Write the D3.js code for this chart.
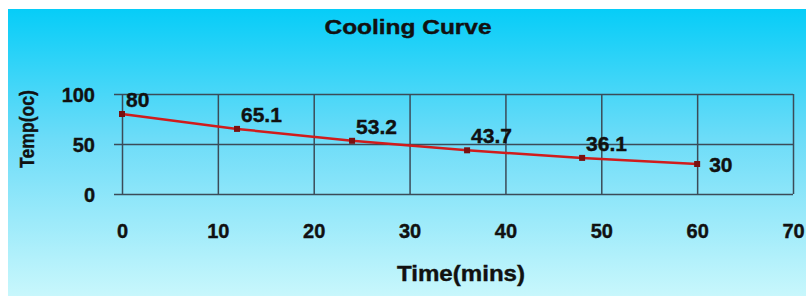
<!DOCTYPE html>
<html>
<head>
<meta charset="utf-8">
<script src="https://cdn.jsdelivr.net/npm/d3@7"></script>
<style>
  body { margin: 0; background: #fff; }
  text { font-family: "Liberation Sans", Arial, sans-serif; font-weight: bold; fill: #111; stroke: #111; stroke-width: 0.4px; }
</style>
</head>
<body>
<svg id="chart" width="806" height="296"></svg>
<script>
const times = [0, 12, 24, 36, 48, 60];
const temps = [80, 65.1, 53.2, 43.7, 36.1, 30];
const tempLabels = ["80", "65.1", "53.2", "43.7", "36.1", "30"];
const xTicks = [0, 10, 20, 30, 40, 50, 60, 70];
const yTicks = [0, 50, 100];

const svg = d3.select("#chart");

// background gradient
const grad = svg.append("defs").append("linearGradient")
    .attr("id", "bg").attr("x1", 0).attr("y1", 0).attr("x2", 0).attr("y2", 1);
grad.append("stop").attr("offset", "0%").attr("stop-color", "#06cdf8");
grad.append("stop").attr("offset", "45%").attr("stop-color", "#6cdcf8");
grad.append("stop").attr("offset", "100%").attr("stop-color", "#c8f7fc");
svg.append("rect").attr("x", 8).attr("y", 9).attr("width", 798).attr("height", 287)
    .attr("fill", "url(#bg)");

const x = d3.scaleLinear().domain([0, 70]).range([122, 793]);
const y = d3.scaleLinear().domain([0, 100]).range([194, 94]);

const gridColor = "#3b4b58";

// y axis with grid lines
const yAxis = svg.append("g")
    .attr("transform", "translate(114,0)")
    .call(d3.axisLeft(y).tickValues(yTicks).tickSize(-(793 - 114)).tickPadding(19));
yAxis.select(".domain").remove();
yAxis.selectAll("line").attr("stroke", gridColor).attr("stroke-width", 1.5);
yAxis.selectAll("text").attr("font-size", 20).attr("dy", "0.36em").attr("fill", "#111");

// x axis with grid lines
const xAxis = svg.append("g")
    .attr("transform", "translate(0,194)")
    .call(d3.axisBottom(x).tickValues(xTicks).tickSize(-100).tickPadding(30));
xAxis.select(".domain").remove();
xAxis.selectAll("line").attr("stroke", gridColor).attr("stroke-width", 1.5);
xAxis.selectAll("text").attr("font-size", 20).attr("fill", "#111");

// data line
const data = times.map((t, i) => ({t: t, v: temps[i], label: tempLabels[i]}));
const line = d3.line().x(d => x(d.t)).y(d => y(d.v));
svg.append("path").datum(data)
    .attr("d", line)
    .attr("fill", "none")
    .attr("stroke", "#d01c1c")
    .attr("stroke-width", 2.5);

svg.selectAll(".marker").data(data).enter()
    .append("rect").classed("marker", true)
    .attr("x", d => x(d.t) - 3)
    .attr("y", d => y(d.v) - 3)
    .attr("width", 6).attr("height", 6)
    .attr("fill", "#7a1010");

// data labels
svg.selectAll(".dlabel").data(data).enter()
    .append("text").classed("dlabel", true)
    .attr("x", (d, i) => i === data.length - 1 ? x(d.t) + 12 : x(d.t) + 4)
    .attr("y", (d, i) => i === data.length - 1 ? y(d.v) + 8 : y(d.v) - 7)
    .attr("font-size", 21)
    .text(d => d.label);

// titles
svg.append("text").attr("x", 408).attr("y", 34).attr("text-anchor", "middle")
    .attr("font-size", 20).attr("textLength", 167).attr("lengthAdjust", "spacingAndGlyphs")
    .text("Cooling Curve");

svg.append("text").attr("x", 461).attr("y", 281).attr("text-anchor", "middle")
    .attr("font-size", 22).attr("textLength", 128).attr("lengthAdjust", "spacingAndGlyphs")
    .text("Time(mins)");

svg.append("text")
    .attr("transform", "translate(34,129) rotate(-90)")
    .attr("text-anchor", "middle")
    .attr("font-size", 21).attr("textLength", 78).attr("lengthAdjust", "spacingAndGlyphs")
    .text("Temp(oc)");
</script>
</body>
</html>
